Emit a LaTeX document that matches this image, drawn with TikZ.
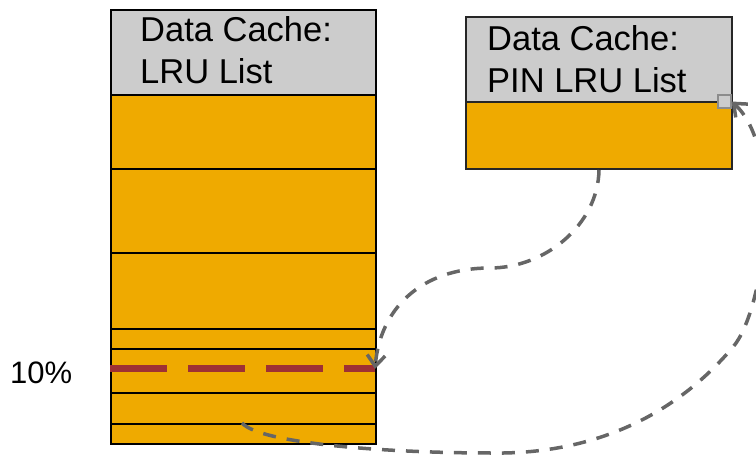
\documentclass[tikz,border=0pt]{standalone}
\usepackage{fontspec}
\setmainfont{Liberation Sans}
\usetikzlibrary{arrows.meta}
\definecolor{cacheorange}{HTML}{EFAA00}
\definecolor{hdrgray}{HTML}{CCCCCC}
\definecolor{redline}{HTML}{9E3034}
\definecolor{linkgray}{HTML}{666666}
\definecolor{sqborder}{HTML}{8C8C8C}
\begin{document}
\begin{tikzpicture}[x=1pt,y=-1pt,
  cell/.style={draw=black, line width=2pt, fill=cacheorange, inner sep=0pt, anchor=north west, minimum width=265pt},
  hdr/.style={draw=black, line width=2pt, fill=hdrgray, inner sep=0pt, anchor=north west},
  lbl/.style={anchor=base west, inner sep=0pt, align=left, font=\fontsize{34.5}{42.5}\selectfont},
  link/.style={draw=linkgray, line width=3.5pt, dash pattern=on 13pt off 11pt,
    -{Straight Barb[length=11pt,width=18pt,line width=3.5pt]}},
  cutline/.style={draw=redline, line width=7pt, dash pattern=on 57pt off 21pt},
]
\useasboundingbox (0,0) rectangle (756,457);

% Left column: Data Cache LRU list
\node[hdr, minimum width=265pt, minimum height=85pt] (lhdr) at (110,9) {};
\node[cell, minimum height=74pt] (lr1) at (110,94) {};
\node[cell, minimum height=84pt] (lr2) at (110,168) {};
\node[cell, minimum height=76pt] (lr3) at (110,252) {};
\node[cell, minimum height=20pt] (lr4) at (110,328) {};
\node[cell, minimum height=44pt] (lr5) at (110,348) {};
\node[cell, minimum height=31pt] (lr6) at (110,392) {};
\node[cell, minimum height=20pt] (lr7) at (110,423) {};
\node[lbl] (ltxt) at (140,84) {Data Cache:\\LRU List};

% Right: PIN LRU list
\node[hdr, draw=black!85, minimum width=266pt, minimum height=85pt] (rhdr) at (465,16) {};
\node[hdr, draw=black!85, fill=cacheorange, minimum width=266pt, minimum height=67pt] (rbody) at (465,101) {};
\node[lbl] (rtxt) at (487,93) {Data Cache:\\PIN LRU List};
\node[draw=sqborder, fill=hdrgray, line width=1.2pt, minimum size=13pt, inner sep=0pt] (pinsq) at (724.5,101.5) {};

% 10% marker
\node[anchor=base west, inner sep=0pt, font=\fontsize{31}{36}\selectfont] (pct) at (10,384) {10\%};
\coordinate (cutL) at (110,369);
\coordinate (cutR) at (375,369);
\draw[cutline] (cutL) -- (cutR);

% Connectors
\draw[link] (rbody.south) .. controls (598,225) and (545,268) .. (490,268)
  .. controls (420,268) and (380,310) .. (cutR);
\coordinate (evict) at (242,423);
\draw[link] (evict) .. controls (262,445) and (400,453) .. (490,453)
  .. controls (600,455) and (680,410) .. (733,347)
  .. controls (765,310) and (785,150) .. (pinsq.east);
\end{tikzpicture}
\end{document}
